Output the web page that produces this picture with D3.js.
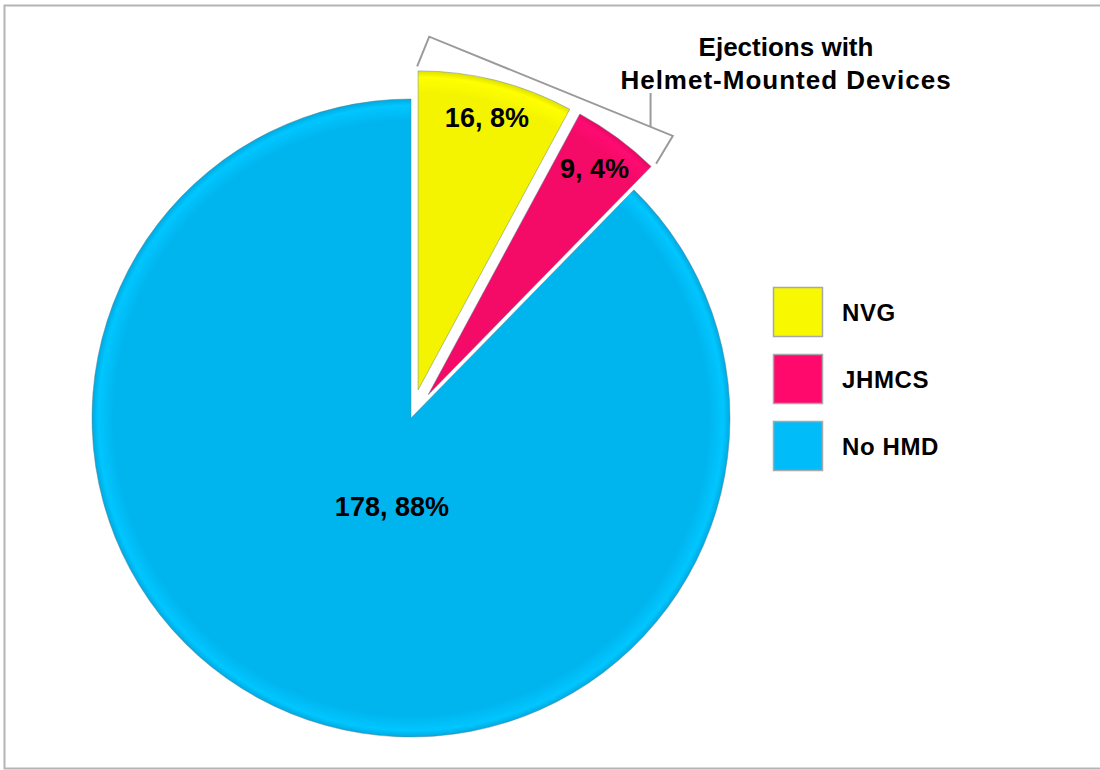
<!DOCTYPE html>
<html>
<head>
<meta charset="utf-8">
<script src="https://cdn.jsdelivr.net/npm/d3@7"></script>
<style>
  html, body { margin: 0; padding: 0; background: #fff; }
  svg { display: block; }
  text { font-family: "Liberation Sans", Arial, sans-serif; font-weight: bold; fill: #000; }
</style>
</head>
<body>
<svg id="chart" width="1100" height="770"></svg>
<script>
// Ejection counts by helmet-mounted device type
const categories = ["NVG", "JHMCS", "No HMD"];
const counts = [16, 9, 178];
const percents = [8, 4, 88];
const exploded = [true, true, false];
const swatches = ["#f8f800", "#ff0a6c", "#00bcf8"];
const bracketTitle = ["Ejections with", "Helmet-Mounted Devices"];

const W = 1100, H = 770;
const svg = d3.select("#chart");

// frame around the chart area
svg.append("rect")
  .attr("x", 4.5).attr("y", 5.5)
  .attr("width", W + 10).attr("height", 763)
  .attr("fill", "#fff").attr("stroke", "#b4b4b4").attr("stroke-width", 2);

const cx = 411, cy = 418, R = 319, explode = 29;

const rows = categories.map((c, i) => ({ name: c, count: counts[i], pct: percents[i], exploded: exploded[i] }));
const color = d3.scaleOrdinal().domain(categories).range(swatches);

const pie = d3.pie().sort(null).value(d => d.count).startAngle(0).endAngle(2 * Math.PI);
const arcs = pie(rows);
const arc = d3.arc().innerRadius(0).outerRadius(R);

// soft bevel shading for the slices
const defs = svg.append("defs");
arcs.forEach((a, i) => {
  const g = defs.append("radialGradient")
    .attr("id", "shade" + i)
    .attr("gradientUnits", "userSpaceOnUse")
    .attr("cx", 0).attr("cy", 0).attr("r", R);
  const base = d3.color(color(a.data.name));
  const body = base.darker(i === 0 ? 0.04 : 0.12).formatHex();
  g.append("stop").attr("offset", "0%").attr("stop-color", body);
  g.append("stop").attr("offset", "93%").attr("stop-color", body);
  g.append("stop").attr("offset", "98%").attr("stop-color", base.brighter(0.15).formatHex());
  g.append("stop").attr("offset", "100%").attr("stop-color", base.darker(0.3).formatHex());
});

const offset = a => {
  if (!a.data.exploded) return [0, 0];
  const m = (a.startAngle + a.endAngle) / 2;
  return [explode * Math.sin(m), -explode * Math.cos(m)];
};

const pieG = svg.append("g").attr("transform", `translate(${cx},${cy})`);
const slices = pieG.selectAll("g.slice").data(arcs).join("g")
  .attr("class", "slice")
  .attr("transform", d => { const o = offset(d); return `translate(${o[0]},${o[1]})`; });

slices.append("path")
  .attr("d", arc)
  .attr("fill", (d, i) => `url(#shade${i})`)
  .attr("stroke", "#5f7f8f").attr("stroke-opacity", 0.6).attr("stroke-width", 0.8);

// value labels: "count, percent%"
const labelFrac = d => d.data.exploded ? 0.88 : 0.3;
slices.append("text")
  .attr("text-anchor", "middle")
  .attr("dominant-baseline", "central")
  .attr("font-size", 27)
  .attr("x", d => Math.sin((d.startAngle + d.endAngle) / 2) * R * labelFrac(d) + (d.data.exploded ? 0 : 17))
  .attr("y", d => -Math.cos((d.startAngle + d.endAngle) / 2) * R * labelFrac(d))
  .text(d => `${d.data.count}, ${d.data.pct}%`);

// bracket grouping the helmet-mounted device slices
const hmd = arcs.filter(a => a.data.exploded);
const gStart = d3.min(hmd, a => a.startAngle), gEnd = d3.max(hmd, a => a.endAngle);
const ga = (gStart + gEnd) / 2;
const toScreen = (u, v) => [cx + u * Math.cos(ga) + v * Math.sin(ga), cy + u * Math.sin(ga) - v * Math.cos(ga)];
const vTop = R + explode + 12, vLeg = R + explode - 20;
const bracketPts = [toScreen(-127, vLeg), toScreen(-127, vTop), toScreen(136, vTop), toScreen(131, vLeg)];
svg.append("path")
  .attr("d", d3.line()(bracketPts))
  .attr("fill", "none").attr("stroke", "#9a9a9a").attr("stroke-width", 2);

const tick = toScreen(112, vTop);
const titleX = 786, titleY = 56, titleGap = 33;
svg.append("line")
  .attr("x1", tick[0]).attr("y1", tick[1])
  .attr("x2", tick[0]).attr("y2", titleY + titleGap + 4)
  .attr("stroke", "#9a9a9a").attr("stroke-width", 2);

svg.append("g").selectAll("text").data(bracketTitle).join("text")
  .attr("x", titleX)
  .attr("y", (d, i) => titleY + i * titleGap)
  .attr("text-anchor", "middle")
  .attr("font-size", 26)
  .attr("letter-spacing", (d, i) => i === 1 ? 1.0 : 0)
  .text(d => d);

// legend
const legend = svg.append("g").attr("transform", "translate(773,287)");
const item = legend.selectAll("g").data(categories).join("g")
  .attr("transform", (d, i) => `translate(0,${i * 67})`);
item.append("rect")
  .attr("x", 0.5).attr("y", 0.5).attr("width", 49).attr("height", 49)
  .attr("fill", d => color(d)).attr("stroke", "#a8a8a8").attr("stroke-width", 1.5);
item.append("text")
  .attr("x", 69).attr("y", 25)
  .attr("dominant-baseline", "central")
  .attr("font-size", 24)
  .attr("letter-spacing", 0.6)
  .text(d => d);
</script>
</body>
</html>
